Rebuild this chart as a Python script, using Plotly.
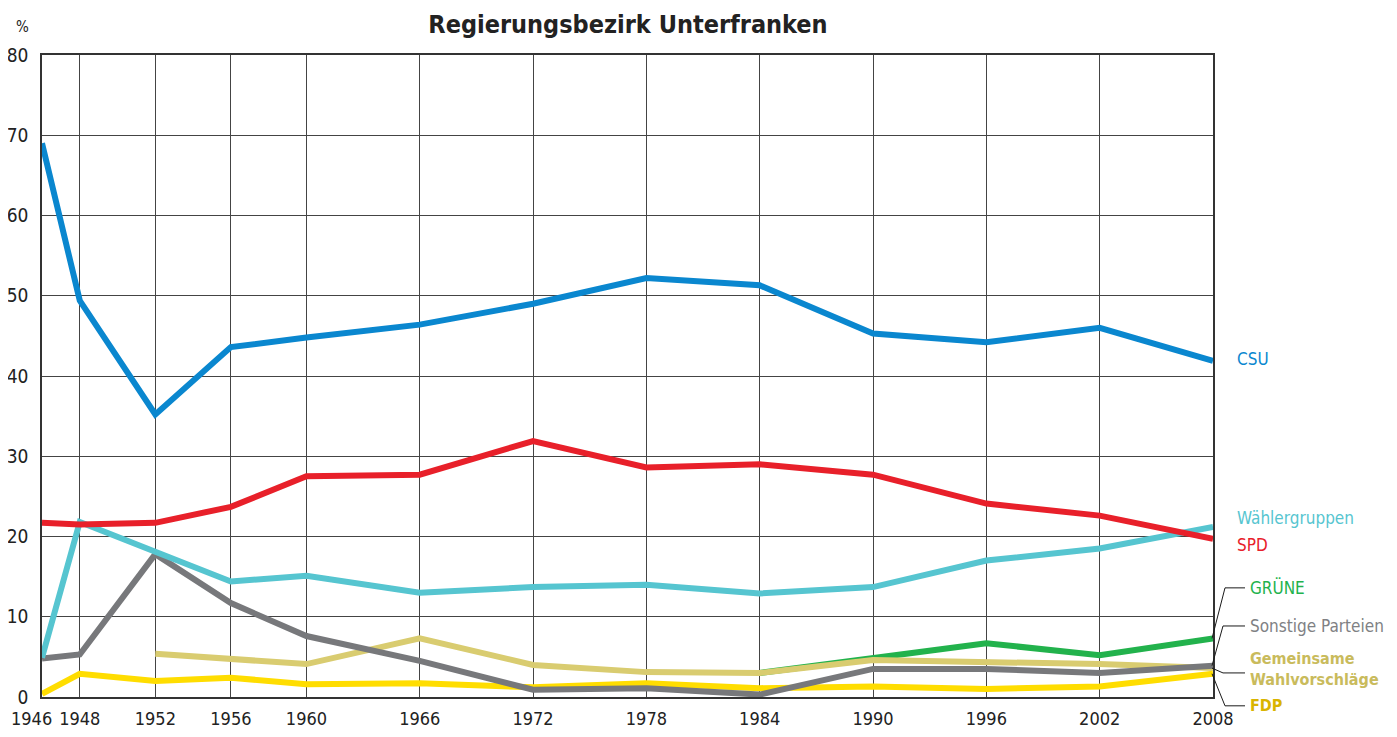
import plotly.graph_objects as go

years = [1946, 1948, 1952, 1956, 1960, 1966, 1972, 1978, 1984, 1990, 1996, 2002, 2008]
csu = [69.0, 49.4, 35.2, 43.6, 44.8, 46.4, 49.0, 52.2, 51.3, 45.3, 44.2, 46.0, 41.9]
spd = [21.7, 21.5, 21.7, 23.7, 27.5, 27.7, 31.9, 28.6, 29.0, 27.7, 24.1, 22.6, 19.7]
waehler = [4.9, 21.8, 18.1, 14.4, 15.1, 13.0, 13.7, 14.0, 12.9, 13.7, 17.0, 18.5, 21.2]
sonstige = [4.8, 5.3, 17.8, 11.7, 7.6, 4.5, 0.9, 1.1, 0.3, 3.5, 3.5, 3.0, 3.9]
gemein_years = [1952, 1956, 1960, 1966, 1972, 1978, 1984, 1990, 1996, 2002, 2008]
gemeinsame = [5.4, 4.8, 4.1, 7.3, 4.0, 3.1, 3.0, 4.6, 4.3, 4.1, 3.6]
gruene_years = [1984, 1990, 1996, 2002, 2008]
gruene = [3.0, 4.9, 6.7, 5.2, 7.3]
fdp = [0.4, 2.9, 2.0, 2.4, 1.6, 1.7, 1.2, 1.7, 1.1, 1.3, 1.0, 1.3, 2.9]

FONT = "Liberation Sans Narrow, DejaVu Sans Condensed, sans-serif"

C_CSU = "#0a87cf"
C_SPD = "#e8202a"
C_WAE = "#56c5d0"
C_SON = "#77787b"
C_GEM = "#d9cc70"
C_GRU = "#22b24c"
C_FDP = "#ffdd00"

# page body has an 8px margin; work in reference pixels and shift
OFF = 8
W, H = 1397 - 2 * OFF, 737 - 2 * OFF
PL, PR, PT, PB = 42 - OFF, 1213 - OFF, 55 - OFF, 697 - OFF
YMAX = 80

fig = go.Figure()
LW = 6

def add(x, y, color):
    fig.add_trace(go.Scatter(x=x, y=y, mode="lines", line=dict(color=color, width=LW),
                             hoverinfo="skip", showlegend=False))

add(gruene_years, gruene, C_GRU)
add(gemein_years, gemeinsame, C_GEM)
add(years, fdp, C_FDP)
add(years, sonstige, C_SON)
add(years, waehler, C_WAE)
add(years, spd, C_SPD)
add(years, csu, C_CSU)

def px_to_paper(px):
    # px in reference coordinates
    return (px - 42) / (1213 - 42)

def py_to_paper(py):
    return (697 - py) / (697 - 55)

# right-side labels (label position given in % units)
labels = [
    ("CSU", 42.1, C_CSU, 1236, False, 17),
    ("Wählergruppen", 22.3, C_WAE, 1236, False, 17),
    ("SPD", 18.9, C_SPD, 1236, False, 17),
    ("GRÜNE", 13.6, C_GRU, 1249, False, 17),
    ("Sonstige Parteien", 8.85, "#808184", 1249, False, 17),
    ("Gemeinsame<br>Wahlvorschläge", 3.5, "#c9bb5c", 1249, True, 16),
    ("FDP", -1.1, "#d9b400", 1249, True, 16),
]
for text, yv, col, px, bold, fs in labels:
    fig.add_annotation(x=px_to_paper(px), xref="paper", y=yv / YMAX, yref="paper",
                       text=f"<b>{text}</b>" if bold else text,
                       showarrow=False, xanchor="left", yanchor="middle",
                       align="left", borderpad=0,
                       font=dict(family=FONT, size=fs, color=col))

# connector lines for the crowded labels
connectors = [
    (gruene[-1], 13.6, 1225),
    (sonstige[-1], 8.85, 1223),
    (gemeinsame[-1], 3.0, 1223),
    (fdp[-1], -1.1, 1225),
]
for ys, ye, kx in connectors:
    fig.add_shape(type="path", xref="paper", yref="paper",
                  path=f"M {px_to_paper(1212)},{ys/YMAX} L {px_to_paper(kx)},{ye/YMAX} L {px_to_paper(1245)},{ye/YMAX}",
                  line=dict(color="#1a1a1a", width=1))

# % label
fig.add_annotation(x=px_to_paper(22), xref="paper", y=py_to_paper(27), yref="paper",
                   text="%", showarrow=False, xanchor="center", yanchor="middle",
                   font=dict(family=FONT, size=15, color="#222"))
# first year label sits left of the axis start
fig.add_annotation(x=px_to_paper(31), xref="paper", y=py_to_paper(719), yref="paper",
                   text=str(years[0]), showarrow=False, xanchor="center", yanchor="middle",
                   font=dict(family=FONT, size=18, color="#222"))

fig.update_layout(
    width=W, height=H,
    margin=dict(l=PL, r=W - PR, t=PT, b=H - PB, pad=0),
    paper_bgcolor="white", plot_bgcolor="white",
    title=dict(text="<b>Regierungsbezirk Unterfranken</b>", x=(628 - OFF) / W, xanchor="center",
               xref="container",
               y=1 - (24 - OFF) / H, yanchor="middle", yref="container",
               font=dict(family=FONT, size=25, color="#222")),
    font=dict(family=FONT, size=18, color="#222"),
    showlegend=False,
)
fig.update_xaxes(range=[1946, 2008], tickvals=years,
                 ticktext=[""] + [str(y) for y in years[1:]],
                 showgrid=True, gridcolor="#444", gridwidth=1,
                 showline=True, linecolor="#333", linewidth=1.5, mirror=True,
                 zeroline=False, ticks="", ticklabelstandoff=5, tickangle=0,
                 automargin=False,
                 tickfont=dict(family=FONT, size=18, color="#222"))
fig.update_yaxes(range=[0, YMAX], tickvals=list(range(0, 81, 10)),
                 showgrid=True, gridcolor="#444", gridwidth=1,
                 showline=True, linecolor="#333", linewidth=1.5, mirror=True,
                 zeroline=False, ticks="", ticklabelstandoff=8,
                 automargin=False,
                 tickfont=dict(family=FONT, size=19, color="#222"))

fig.write_html("out.html")
